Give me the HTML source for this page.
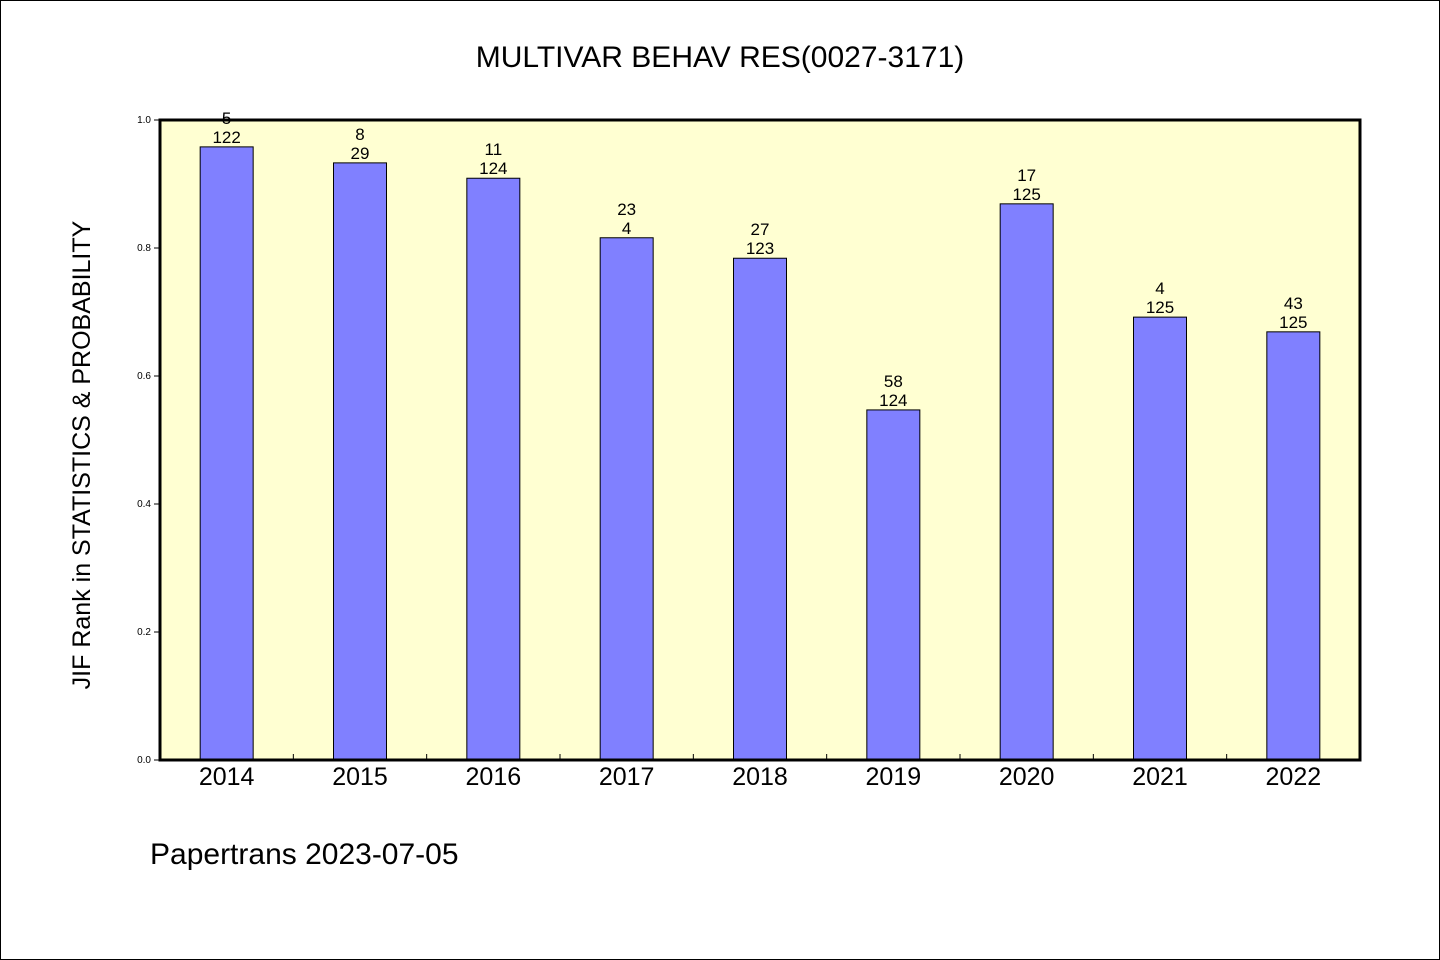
<!DOCTYPE html>
<html><head><meta charset="utf-8"><style>
html,body{margin:0;padding:0;background:#fff}
svg{display:block}
text{font-family:"WenQuanYi Zen Hei","Liberation Sans",sans-serif;fill:#000}
</style></head><body>
<svg id="chart" width="1440" height="960" xmlns="http://www.w3.org/2000/svg">
<rect x="0.5" y="0.5" width="1439" height="959" fill="#fff" stroke="#000"/>
<text x="720" y="67" font-size="30" text-anchor="middle">MULTIVAR BEHAV RES(0027-3171)</text>
<rect x="160" y="120" width="1200" height="640" fill="#ffffd2"/>
<g id="bars"></g>
<rect x="160" y="120" width="1200" height="640" fill="none" stroke="#000" stroke-width="3"/>
<text transform="translate(90,455) rotate(-90)" font-size="25" text-anchor="middle">JIF Rank in STATISTICS &amp; PROBABILITY</text>
<text x="150" y="864" font-size="30">Papertrans 2023-07-05</text>
</svg>
<script>
const categories = ["2014","2015","2016","2017","2018","2019","2020","2021","2022"];
const values = [0.958,0.933,0.909,0.816,0.784,0.547,0.869,0.692,0.669];
const rankTop = ["5","8","11","23","27","58","17","4","43"];
const rankBottom = ["122","29","124","4","123","124","125","125","125"];
const yTicks = [0,0.2,0.4,0.6,0.8,1.0];
const yTickLabels = ["0.0","0.2","0.4","0.6","0.8","1.0"];

const X0=160, W=1200, Y0=760, H=640;
const ns="http://www.w3.org/2000/svg";
const svg=document.getElementById('chart');
const g=document.getElementById('bars');
const slot=W/categories.length;
const xC=i=>X0+slot*(i+0.5);
const y=v=>Y0-v*H;
function mk(tag,attrs,parent){const e=document.createElementNS(ns,tag);for(const k in attrs)e.setAttribute(k,attrs[k]);(parent||svg).appendChild(e);return e;}

categories.forEach((c,i)=>{
  const b=mk('rect',{x:xC(i)-26.5,y:y(values[i]),width:53,height:Y0-y(values[i]),fill:'#8080ff',stroke:'#000','stroke-width':1},g);
  
  
  const t1=mk('text',{x:xC(i),y:y(values[i])-23,'font-size':17,'text-anchor':'middle'},g);
  t1.textContent=rankTop[i];
  
  
  const t2=mk('text',{x:xC(i),y:y(values[i])-4,'font-size':17,'text-anchor':'middle'},g);
  t2.textContent=rankBottom[i];
  
  
  const xl=mk('text',{x:xC(i),y:785,'font-size':25,'text-anchor':'middle'});
  xl.textContent=c;
  
  
  if(i>0){
    const tk=mk('line',{x1:X0+slot*i,x2:X0+slot*i,y1:Y0,y2:Y0-6,stroke:'#000'});
    
    
  }
});
yTicks.forEach((v,i)=>{
  const tk=mk('line',{x1:X0-6,x2:X0,y1:y(v),y2:y(v),stroke:'#000'});
  
  
  const tl=mk('text',{x:X0-9,y:y(v)+3,'font-size':10,'text-anchor':'end'});
  tl.textContent=yTickLabels[i];
  
  
});
</script>
</body></html>
